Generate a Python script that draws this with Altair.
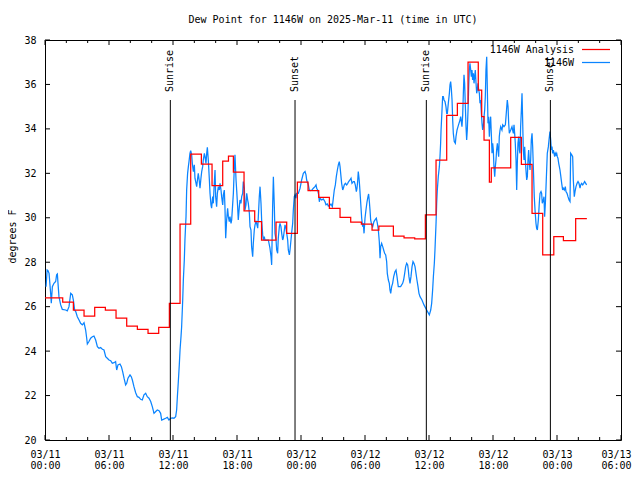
import json
import altair as alt
import pandas as pd

FONT = "DejaVu Sans Mono"

# ---- observed dew point (1146W), hours since 2025-03-11 00:00 UTC ----
blue_hours = [
    0.10, 0.20, 0.28, 0.38, 0.53, 0.59, 0.69, 0.84, 1.00, 1.09, 1.16, 1.22, 1.31, 1.47, 1.62, 1.94,
    2.09, 2.25, 2.41, 2.56, 2.66, 2.72, 2.78, 2.88, 3.03, 3.19, 3.34, 3.50, 3.66, 3.81, 3.91, 3.97,
    4.12, 4.28, 4.44, 4.59, 4.75, 4.91, 5.06, 5.22, 5.38, 5.53, 5.69, 5.84, 6.00, 6.16, 6.31, 6.47,
    6.62, 6.72, 6.84, 7.03, 7.16, 7.28, 7.41, 7.56, 7.66, 7.78, 7.97, 8.09, 8.19, 8.34, 8.50, 8.66,
    8.81, 8.97, 9.12, 9.28, 9.44, 9.59, 9.75, 9.91, 10.06, 10.22, 10.38, 10.53, 10.69, 10.84, 10.94,
    11.09, 11.31, 11.47, 11.62, 11.78, 11.94, 12.09, 12.25, 12.34, 12.41, 12.50,
    12.59, 12.66, 12.75, 12.81, 12.91, 12.97, 13.06, 13.12, 13.22, 13.28, 13.37, 13.44, 13.50, 13.59,
    13.66, 13.75, 13.81, 13.91, 14.00, 14.06, 14.16, 14.22, 14.31, 14.37, 14.47, 14.53, 14.62, 14.69,
    14.78, 14.84, 14.94, 15.00, 15.09, 15.16, 15.22, 15.31, 15.41, 15.47, 15.56, 15.62, 15.72, 15.78,
    15.87, 15.94, 16.00, 16.09, 16.16, 16.25, 16.34, 16.41, 16.50, 16.56, 16.66, 16.72, 16.81, 16.87,
    16.94, 17.03, 17.12, 17.19, 17.28, 17.34, 17.44, 17.50, 17.59, 17.66, 17.75, 17.81, 17.91, 17.97,
    18.06, 18.12, 18.22, 18.28, 18.37, 18.44, 18.53, 18.59, 18.69, 18.75, 18.84, 18.91, 19.00, 19.06,
    19.16, 19.22, 19.31, 19.37, 19.47, 19.53, 19.62, 19.69, 19.78, 19.84, 19.94, 20.00, 20.09, 20.16,
    20.25, 20.31, 20.41, 20.47, 20.56, 20.62, 20.78, 20.94, 21.03, 21.09, 21.19, 21.25, 21.34, 21.41,
    21.50, 21.56, 21.66, 21.72, 21.81, 21.87, 21.97, 22.03, 22.12, 22.19, 22.28, 22.34, 22.44, 22.50,
    22.59, 22.66, 22.75, 22.81, 22.91, 22.97, 23.06, 23.12, 23.22, 23.28, 23.37, 23.44, 23.53, 23.59,
    23.75,
    23.91, 24.06, 24.22, 24.38, 24.47, 24.53, 24.69, 24.78, 24.91, 25.03, 25.16, 25.31, 25.41, 25.47,
    25.56, 25.66, 25.72, 25.78, 25.94, 26.09, 26.25, 26.34, 26.47, 26.56, 26.72, 26.81, 26.94, 27.03,
    27.12, 27.22, 27.31, 27.41, 27.50, 27.59, 27.66, 27.72, 27.81, 27.91, 27.97, 28.06, 28.16, 28.28,
    28.38, 28.47, 28.59, 28.69, 28.78, 28.91, 29.00, 29.09, 29.19, 29.25, 29.31, 29.37, 29.44, 29.50,
    29.56, 29.62, 29.69, 29.78, 29.84, 29.91, 30.00, 30.09, 30.19, 30.28, 30.34, 30.41, 30.47, 30.53,
    30.63, 30.72, 30.84, 30.97, 31.06, 31.16, 31.25, 31.34, 31.41, 31.47, 31.56, 31.66, 31.75, 31.84,
    31.94, 32.03, 32.09, 32.19, 32.28, 32.34, 32.41, 32.50, 32.59, 32.69, 32.81, 32.91, 33.00, 33.06,
    33.12, 33.34, 33.53, 33.62, 33.72, 33.81, 33.91, 34.00, 34.06, 34.12, 34.22, 34.31, 34.41, 34.50,
    34.59, 34.69, 34.78, 34.87, 34.97, 35.06, 35.16, 35.34, 35.53,
    35.78, 36.03, 36.16, 36.25, 36.34, 36.41, 36.50, 36.56, 36.66, 36.72, 36.78, 36.87, 36.97, 37.03,
    37.09, 37.13, 37.19, 37.25, 37.28, 37.34, 37.41, 37.50, 37.59, 37.66, 37.72, 37.81, 37.91, 37.97,
    38.03, 38.09, 38.16, 38.22, 38.28, 38.37, 38.47, 38.53, 38.63, 38.72, 38.81, 38.91, 38.97, 39.03,
    39.09, 39.16, 39.22, 39.28, 39.34, 39.41, 39.47, 39.53, 39.59, 39.66, 39.72, 39.78, 39.84, 39.91,
    39.97, 40.03, 40.09, 40.16, 40.22, 40.28, 40.34, 40.41, 40.47, 40.53, 40.59, 40.66, 40.72, 40.78,
    40.84, 40.91, 40.97, 41.03, 41.09, 41.16, 41.22, 41.28, 41.34, 41.41, 41.47, 41.53, 41.59, 41.66,
    41.72, 41.78, 41.84, 41.91, 41.97, 42.03, 42.09, 42.16, 42.22, 42.28, 42.34, 42.41, 42.47, 42.53,
    42.59, 42.66, 42.72, 42.84, 42.91, 43.03, 43.16, 43.22, 43.28, 43.34, 43.41, 43.47, 43.53, 43.66,
    43.78, 43.84, 43.91, 43.97, 44.03, 44.09, 44.16, 44.22, 44.28, 44.34, 44.41, 44.47, 44.53, 44.59,
    44.66, 44.72, 44.78, 44.84, 44.91, 44.97, 45.03, 45.09, 45.16, 45.22, 45.28, 45.34, 45.41, 45.47,
    45.53, 45.59, 45.66, 45.72, 45.78,
    45.87, 45.94, 46.03, 46.09, 46.16, 46.25, 46.34, 46.41, 46.50, 46.56, 46.62, 46.72, 46.78, 46.84,
    46.91, 46.97, 47.03, 47.09, 47.19, 47.25, 47.34, 47.41, 47.47, 47.53, 47.59, 47.66, 47.72, 47.78,
    47.84, 47.91, 47.97, 48.03, 48.09, 48.16, 48.22, 48.28, 48.34, 48.44, 48.53, 48.59, 48.69, 48.78,
    48.84, 48.94, 49.03, 49.13, 49.22, 49.28, 49.38, 49.47, 49.53, 49.62, 49.69, 49.78, 49.88, 49.97,
    50.06, 50.16, 50.22, 50.31, 50.41, 50.50, 50.59, 50.69, 50.78,
]
blue_values = [
    26.90, 27.65, 27.62, 27.50, 26.60, 26.15, 26.90, 27.05, 27.13, 27.43, 27.47, 27.05, 26.45, 26.08, 25.88, 25.85,
    25.81, 26.00, 26.60, 26.53, 26.30, 26.08, 25.85, 25.78, 25.55, 25.40, 25.25, 25.18, 25.28, 24.95, 24.58, 24.32,
    24.43, 24.58, 24.65, 24.68, 24.50, 24.20, 24.13, 24.16, 24.08, 24.05, 23.75, 23.68, 23.60, 23.57, 23.45, 23.48,
    23.53, 23.15, 23.38, 23.42, 23.30, 23.08, 22.78, 22.48, 22.55, 22.78, 22.93, 22.85, 22.70, 22.40, 22.13, 21.95,
    21.92, 21.83, 21.80, 22.03, 22.10, 21.95, 21.88, 21.73, 21.50, 21.20, 21.28, 21.35, 21.32, 21.20, 20.90,
    20.93, 20.98, 21.02, 20.90, 20.98, 21.00, 20.98, 21.05, 21.35, 21.95, 22.63,
    23.38, 24.05, 24.65, 25.10, 26.30, 27.20, 28.10, 29.00, 30.05, 31.25, 32.00, 32.30, 32.53, 32.90,
    33.02, 32.83, 32.45, 32.08, 32.38, 31.78, 31.55, 31.40, 31.78, 32.00, 31.63, 31.33, 31.78, 32.08,
    32.30, 32.60, 32.90, 32.75, 32.45, 32.90, 33.17, 32.60, 31.70, 31.10, 30.58, 30.43, 30.95, 30.65,
    31.55, 32.15, 30.95, 30.50, 31.10, 31.40, 31.25, 31.55, 31.25, 30.95, 30.58, 31.03, 31.25, 30.50,
    29.08, 29.90, 30.43, 30.05, 29.83, 30.05, 29.75, 29.90, 30.58, 31.10, 32.30, 32.83, 31.70, 31.25,
    30.50, 29.90, 30.50, 30.80, 30.65, 30.95, 31.10, 31.63, 31.33, 30.35, 30.58, 31.10, 30.80, 30.65,
    30.20, 29.60, 29.45, 28.70, 28.25, 28.85, 29.45, 29.68, 29.83, 29.75, 29.53, 30.05, 30.95, 31.40,
    30.65, 29.90, 29.23, 29.00, 29.15, 29.00, 29.00, 29.00, 28.78, 28.63, 28.25, 27.88, 30.50, 31.85,
    30.50, 29.30, 29.00, 28.55, 28.40, 29.08, 29.60, 29.75, 29.60, 29.30, 29.00, 29.08, 29.45, 29.68,
    29.53, 29.30, 29.00, 28.55, 28.33, 28.55, 29.00, 29.30, 29.75, 30.35, 30.95, 31.03, 30.88, 31.10,
    31.10,
    31.33, 31.70, 32.00, 32.08, 31.93, 31.70, 31.48, 31.25, 31.22, 31.25, 31.33, 31.40, 31.48, 31.33,
    31.25, 31.03, 30.72, 30.88, 30.80, 30.85, 30.72, 30.58, 30.62, 30.53, 30.58, 30.62, 30.50, 30.88,
    31.25, 31.48, 31.85, 32.15, 32.38, 32.53, 32.30, 32.00, 31.55, 31.25, 31.33, 31.48, 31.55, 31.48,
    31.55, 31.63, 31.70, 31.78, 31.55, 31.63, 31.63, 31.48, 31.18, 31.33, 31.63, 32.08, 31.78, 31.40,
    30.95, 30.50, 29.98, 29.60, 29.75, 29.30, 29.98, 30.35, 30.72, 30.95, 31.07, 30.72, 30.35, 29.90,
    29.68, 29.60, 29.83, 29.93, 29.98, 29.75, 29.45, 28.93, 28.18, 28.70, 28.85, 28.70, 28.55, 28.40,
    28.33, 28.03, 27.50, 27.20, 27.05, 26.75, 26.60, 26.90, 27.05, 27.35, 27.57, 27.65, 27.35, 27.13,
    26.90, 26.90, 27.05, 27.20, 27.50, 27.80, 27.95, 27.88, 27.65, 27.35, 27.05, 27.35, 27.80, 28.03,
    27.95, 27.80, 27.50, 27.20, 26.90, 26.60, 26.45, 26.30, 26.08,
    25.85, 25.63, 25.85, 26.15, 26.75, 27.35, 27.95, 28.55, 29.75, 30.65, 31.25, 31.85, 32.30, 32.75,
    33.35, 33.95, 34.55, 35.15, 35.45, 35.45, 35.30, 35.23, 35.00, 34.70, 34.70, 35.15, 35.60, 35.98,
    36.13, 35.83, 35.30, 34.40, 33.80, 33.43, 33.35, 33.65, 33.95, 34.10, 34.25, 34.40, 34.55, 34.33,
    34.10, 34.63, 35.60, 36.43, 36.05, 35.00, 34.10, 33.50, 33.95, 34.85, 35.90, 36.65, 36.95, 36.65,
    36.35, 36.65, 36.20, 36.50, 36.05, 36.35, 36.65, 36.05, 35.60, 35.75, 36.05, 35.75, 35.60, 35.15,
    35.30, 34.70, 34.25, 33.95, 34.10, 34.55, 34.85, 35.45, 36.65, 37.25, 35.75, 34.25, 34.55, 33.65,
    34.25, 34.55, 33.80, 32.90, 33.35, 33.05, 32.30, 31.85, 32.30, 32.60, 33.05, 33.35, 33.05, 32.75,
    33.65, 33.95, 34.10, 33.95, 34.18, 34.10, 34.18, 34.55, 34.93, 35.30, 35.00, 34.25, 33.80, 33.95,
    34.10, 33.95, 33.80, 34.18, 33.80, 33.35, 32.60, 31.25, 32.45, 33.35, 33.65, 33.05, 32.90, 34.10,
    34.85, 35.60, 34.40, 33.05, 32.60, 33.20, 32.60, 32.15, 31.70, 31.85, 32.60, 33.05, 32.45, 32.15,
    32.60, 33.50, 33.80, 33.20, 32.30,
    30.95, 30.35, 29.75, 29.53, 29.45, 29.90, 30.65, 31.10, 31.18, 31.10, 30.65, 30.80, 30.95, 30.05,
    30.65, 31.40, 32.15, 32.90, 33.20, 33.50, 33.88, 33.50, 33.05, 33.20, 32.90, 33.05, 32.90, 32.75,
    32.90, 32.83, 32.90, 32.75, 32.68, 32.45, 32.30, 32.15, 31.93, 31.55, 31.25, 31.33, 31.25, 31.40,
    31.18, 31.10, 30.95, 30.80, 30.73, 32.90, 32.83, 32.75, 31.70, 30.95, 31.18, 31.40, 31.55, 31.63,
    31.55, 31.33, 31.48, 31.55, 31.48, 31.55, 31.63, 31.55, 31.48,
]

# ---- analysis dew point (step series) ----
red_hours = [
    0.00, 1.66, 2.66, 3.66, 4.66, 5.66, 6.66, 7.66, 8.66, 9.66, 10.66, 11.66, 12.66, 13.66, 14.66,
    15.66, 16.66, 17.20, 17.66, 18.66, 19.66, 20.30, 21.66, 22.66, 23.66, 24.66, 25.66, 26.66, 27.66,
    28.66, 29.66, 30.66, 31.30, 32.66, 33.66, 34.66, 35.66, 36.66, 37.66, 38.66, 39.66, 40.62, 40.94,
    41.16, 41.66, 41.84, 43.66, 44.66, 45.66, 46.66, 47.70, 48.60, 49.75, 50.80,
]
red_values = [
    26.40, 26.20, 25.84, 25.57, 25.97, 25.84, 25.48, 25.12, 24.98, 24.80, 25.07, 26.15, 29.71, 32.86, 32.41,
    31.45, 32.55, 32.78, 32.05, 30.31, 29.83, 29.00, 29.80, 29.30, 31.60, 31.22, 30.92, 30.42, 30.02,
    29.80, 29.71, 29.45, 29.62, 29.18, 29.10, 29.05, 30.13, 32.60, 34.61, 35.15, 37.00, 35.75, 34.55,
    33.50, 31.60, 32.25, 33.62, 32.40, 30.20, 28.33, 29.15, 28.97, 29.96, 29.96,
]

# ---- sunrise / sunset markers ----
event_names = ["Sunrise", "Sunset", "Sunrise", "Sunset"]
event_hours = [11.75, 23.44, 35.75, 47.38]

# ---- axes ----
x_tick_hours = [0, 6, 12, 18, 24, 30, 36, 42, 48, 54]
x_tick_labels = [["03/11", "00:00"], ["03/11", "06:00"], ["03/11", "12:00"], ["03/11", "18:00"],
                 ["03/12", "00:00"], ["03/12", "06:00"], ["03/12", "12:00"], ["03/12", "18:00"],
                 ["03/13", "00:00"], ["03/13", "06:00"]]
x_minor_hours = [2, 4, 8, 10, 14, 16, 20, 22, 26, 28, 32, 34, 38, 40, 44, 46, 50, 52]
y_ticks = [20, 22, 24, 26, 28, 30, 32, 34, 36, 38]

series_names = ["1146W Analysis", "1146W"]
series_colors = ["#ff0000", "#0a84ff"]
title_text = "Dew Point for 1146W on 2025-Mar-11 (time in UTC)"
y_title = "degrees F"

W, H = 576, 400
LW = 1.25

blue_df = pd.DataFrame({"h": blue_hours, "v": blue_values})
red_df = pd.DataFrame({"h": red_hours, "v": red_values})
ev_df = pd.DataFrame({"h": event_hours, "name": event_names})
xmaj_df = pd.DataFrame({"h": x_tick_hours})
xmin_df = pd.DataFrame({"h": x_minor_hours})
y_df = pd.DataFrame({"v": y_ticks})

xs = alt.Scale(domain=[0, 54], nice=False, zero=False)
ys = alt.Scale(domain=[20, 38], nice=False, zero=False)

label_expr = f"{json.dumps(x_tick_labels)}[indexof({json.dumps(x_tick_hours)}, datum.value)]"
last_tick = x_tick_hours[-1]

x_axis = alt.Axis(values=x_tick_hours, labelExpr=label_expr, labelFlush=False,
                  labelOverlap=False, labelBaseline="top", labelAlign="center",
                  labelOffset={"condition": {"test": f"datum.value == {last_tick}", "value": -5},
                               "value": 0},
                  labelPadding=9, labelLineHeight=11, title="")
y_axis = alt.Axis(values=y_ticks, labelPadding=9, title=y_title, titleAngle=270,
                  titleX=-32.5, titleY=196, titleAlign="center", titleBaseline="middle")


def X():
    return alt.X("h:Q", scale=xs, axis=x_axis)


def Y():
    return alt.Y("v:Q", scale=ys, axis=y_axis)


blue = alt.Chart(blue_df).mark_line(color=series_colors[1], strokeWidth=LW).encode(x=X(), y=Y())
red = alt.Chart(red_df).mark_line(color=series_colors[0], strokeWidth=LW,
                                  interpolate="step-after").encode(x=X(), y=Y())

ev_rule = alt.Chart(ev_df).mark_rule(color="black", strokeWidth=1).encode(
    x=X(), y=alt.value(H), y2=alt.value(60))
ev_text = alt.Chart(ev_df).mark_text(angle=270, align="left", baseline="middle",
                                     font=FONT, fontSize=10, color="black").encode(
    x=X(), y=alt.value(52), text="name:N")


def xticks(df, size):
    bot = alt.Chart(df).mark_rule(color="black").encode(
        x=X(), y=alt.value(H), y2=alt.value(H - size))
    top = alt.Chart(df).mark_rule(color="black").encode(
        x=X(), y=alt.value(0), y2=alt.value(size))
    return [bot, top]


yt_left = alt.Chart(y_df).mark_rule(color="black").encode(
    y=Y(), x=alt.value(0), x2=alt.value(5))
yt_right = alt.Chart(y_df).mark_rule(color="black").encode(
    y=Y(), x=alt.value(W), x2=alt.value(W - 5))

legend_layers = []
for i, (name, col) in enumerate(zip(series_names, series_colors)):
    yy = 10 + 13 * i
    legend_layers.append(alt.Chart(pd.DataFrame({"t": [name]})).mark_text(
        align="right", baseline="middle", font=FONT, fontSize=10, color="black").encode(
        x=alt.value(529), y=alt.value(yy), text="t:N"))
    legend_layers.append(alt.Chart(pd.DataFrame({"t": [name]})).mark_rule(
        color=col, strokeWidth=LW).encode(
        x=alt.value(537), x2=alt.value(565), y=alt.value(yy - 0.5)))

title_layer = alt.Chart(pd.DataFrame({"t": [title_text]})).mark_text(
    align="center", baseline="alphabetic", font=FONT, fontSize=10, color="black").encode(
    x=alt.value(W / 2), y=alt.value(-17), text="t:N")

chart = alt.layer(
    blue, red, *xticks(xmaj_df, 5), *xticks(xmin_df, 3), yt_left, yt_right,
    ev_rule, ev_text, *legend_layers, title_layer
).properties(
    width=W, height=H,
    padding={"left": 37, "top": 32, "right": 11, "bottom": 30},
    autosize=alt.AutoSizeParams(type="none"),
    background="white",
).configure_view(stroke="black", strokeWidth=1).configure_axis(
    grid=False, domain=False, ticks=False,
    labelFont=FONT, labelFontSize=10, labelColor="black",
    titleFont=FONT, titleFontSize=10, titleFontWeight="normal", titleColor="black",
)

chart.save("out.html", embed_options={"renderer": "svg", "actions": False})
